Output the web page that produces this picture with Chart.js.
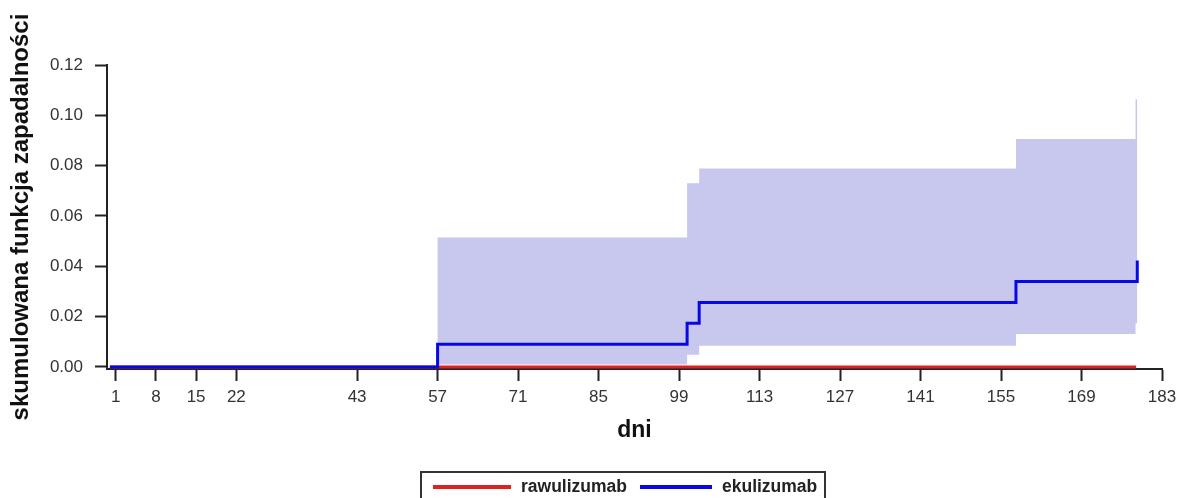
<!DOCTYPE html>
<html>
<head>
<meta charset="utf-8">
<script src="https://cdn.jsdelivr.net/npm/chart.js@4.4.1/dist/chart.umd.min.js"></script>
<style>
html,body{margin:0;padding:0;background:#fff;}
#wrap{width:1189px;height:498px;position:relative;overflow:hidden;}
</style>
</head>
<body>
<div id="wrap"><canvas id="c" width="1189" height="498"></canvas></div>
<script>
// ---- data ----
const xTickValues = [1, 8, 15, 22, 43, 57, 71, 85, 99, 113, 127, 141, 155, 169, 183];
const yTickValues = [0, 0.02, 0.04, 0.06, 0.08, 0.10, 0.12];
const ekuDays    = [0, 57, 100.4, 102.5, 157.6, 178.7];
const ekulizumab = [0, 0.009, 0.0174, 0.0256, 0.034, 0.0423];
const bandDays   = [0, 57, 100.4, 102.5, 157.6, 178.4, 178.7];
const ciUpper    = [0, 0.0515, 0.073, 0.0789, 0.0906, 0.1064, 0.1064];
const ciLower    = [0, 0.001, 0.0049, 0.0084, 0.0131, 0.0174, 0.0174];
const rawDays    = [0, 178.5];
const rawulizumab = [0, 0];
const seriesNames = ['rawulizumab', 'ekulizumab'];
const xTitle = 'dni';
const yTitle = 'skumulowana funkcja zapadalności';

// ---- styles ----
const RED = 'rgb(221,32,32)';
const BLUE = 'rgb(8,8,230)';
const BAND = 'rgb(200,200,238)';
const AXIS = '#222';
const FONT = '"Liberation Sans", Arial, Helvetica, sans-serif';

const pts = (xs, ys) => xs.map((x, i) => ({x: x, y: ys[i]}));

const boxLegend = {
  id: 'boxLegend',
  afterDraw(chart) {
    const ctx = chart.ctx;
    const items = [
      {text: seriesNames[0], color: RED, len: 78},
      {text: seriesNames[1], color: BLUE, len: 72}
    ];
    ctx.save();
    ctx.font = 'bold 17.5px ' + FONT;
    ctx.strokeStyle = '#333';
    ctx.lineWidth = 2;
    ctx.strokeRect(421, 472, 404, 40);
    let x = 433;
    const y = 487;
    items.forEach(it => {
      ctx.strokeStyle = it.color;
      ctx.lineWidth = 4;
      ctx.beginPath();
      ctx.moveTo(x, y);
      ctx.lineTo(x + it.len, y);
      ctx.stroke();
      x += it.len + 10;
      ctx.fillStyle = '#222';
      ctx.textBaseline = 'middle';
      ctx.textAlign = 'left';
      ctx.fillText(it.text, x, y);
      x += ctx.measureText(it.text).width + 13;
    });
    ctx.restore();
  }
};

new Chart(document.getElementById('c'), {
  type: 'line',
  data: {
    datasets: [
      {label: seriesNames[1], data: pts(ekuDays, ekulizumab), borderColor: BLUE, borderWidth: 3,
       stepped: 'before', pointRadius: 0, fill: false},
      {label: seriesNames[0], data: pts(rawDays, rawulizumab), borderColor: RED, borderWidth: 3,
       stepped: 'before', pointRadius: 0, fill: false},
      {label: 'upper', data: pts(bandDays, ciUpper), borderColor: 'transparent', borderWidth: 0,
       backgroundColor: BAND, stepped: 'before', pointRadius: 0, fill: '+1'},
      {label: 'lower', data: pts(bandDays, ciLower), borderColor: 'transparent', borderWidth: 0,
       stepped: 'before', pointRadius: 0, fill: false}
    ]
  },
  options: {
    responsive: false,
    animation: false,
    devicePixelRatio: 1,
    layout: {padding: {top: 65, right: 27, bottom: 0, left: 0}},
    plugins: {legend: {display: false}, tooltip: {enabled: false}},
    scales: {
      x: {
        type: 'linear', min: -0.5, max: 183,
        afterBuildTicks: s => { s.ticks = xTickValues.map(v => ({value: v})); },
        afterFit: s => { s.height = 129; },
        ticks: {autoSkip: false, maxRotation: 0, padding: 6, color: '#333',
                font: {family: FONT, size: 17}, callback: v => String(v)},
        grid: {drawOnChartArea: false, drawTicks: true, tickLength: 12, tickWidth: 2, tickColor: AXIS},
        border: {display: true, color: AXIS, width: 2},
        title: {display: true, text: xTitle, color: '#111',
                font: {family: FONT, size: 23, weight: 'bold'}, padding: {top: 0, bottom: 54}}
      },
      y: {
        min: -0.0008, max: 0.12,
        afterBuildTicks: s => { s.ticks = yTickValues.map(v => ({value: v})); },
        afterFit: s => { s.width = 107; },
        ticks: {padding: 12, color: '#333', font: {family: FONT, size: 17},
                callback: v => Number(v).toFixed(2)},
        grid: {drawOnChartArea: false, drawTicks: true, tickLength: 12, tickWidth: 2, tickColor: AXIS},
        border: {display: true, color: AXIS, width: 2},
        title: {display: true, text: yTitle, color: '#111',
                font: {family: FONT, size: 24, weight: 'bold'}, padding: {top: 7, bottom: 0}}
      }
    }
  },
  plugins: [boxLegend]
});
</script>
</body>
</html>
